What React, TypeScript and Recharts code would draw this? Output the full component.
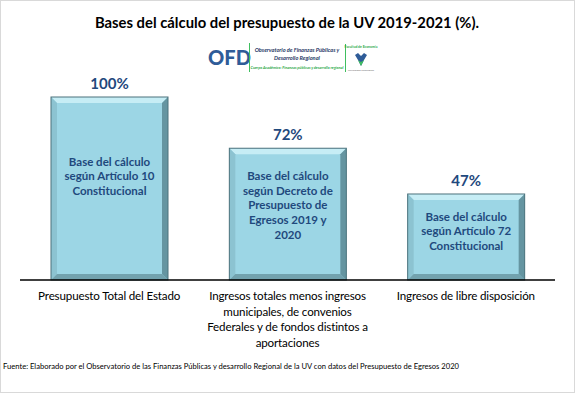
import React from 'react';
import { BarChart, Bar, XAxis, YAxis, LabelList } from 'recharts';

const categories = ['Presupuesto Total del Estado', 'Ingresos totales menos ingresos municipales', 'Ingresos de libre disposición'];
const values = [100, 72, 47];
const tickLines = [
  ['Presupuesto Total del Estado'],
  ['Ingresos totales menos ingresos', 'municipales, de convenios', 'Federales y de fondos distintos a', 'aportaciones'],
  ['Ingresos de libre disposición'],
];
const innerLines = [
  ['Base del cálculo', 'según Artículo 10', 'Constitucional'],
  ['Base del cálculo', 'según Decreto de', 'Presupuesto de', 'Egresos 2019 y', '2020'],
  ['Base del cálculo', 'según Artículo 72', 'Constitucional'],
];
const title = 'Bases del cálculo del presupuesto de la UV 2019-2021 (%).';
const source = 'Fuente: Elaborado por el Observatorio de las Finanzas Públicas y desarrollo Regional de la UV con datos del Presupuesto de Egresos 2020';

const data = categories.map((c, i) => ({ name: c, value: values[i], idx: i }));

const FONT = 'Lato, "Open Sans", sans-serif';
const DARK = '#1F497D';

const BevelBar = (props: any) => {
  const { x, y, width, height } = props;
  const b = 6;
  return (
    <g>
      <rect x={x} y={y} width={width} height={height} fill="#9CD6E5" />
      <polygon points={`${x},${y} ${x + width},${y} ${x + width - b},${y + b} ${x + b},${y + b}`} fill="#C6EDF5" />
      <polygon points={`${x},${y} ${x + b},${y + b} ${x + b},${y + height - b} ${x},${y + height}`} fill="#8CC3D1" />
      <polygon points={`${x},${y + height} ${x + b},${y + height - b} ${x + width - b},${y + height - b} ${x + width},${y + height}`} fill="#72A2AE" />
      <polygon points={`${x + width},${y} ${x + width},${y + height} ${x + width - b},${y + height - b} ${x + width - b},${y + b}`} fill="#6595A1" />
      <rect x={x} y={y} width={width} height={height} fill="none" stroke="#4C727C" strokeWidth={1} />
    </g>
  );
};

const ValueLabel = (props: any) => {
  const { x, y, width, value } = props;
  return (
    <text x={x + width / 2} y={y - 14} textAnchor="middle" dominantBaseline="central" fontFamily={FONT} fontWeight={700} fontSize={15} fill={DARK}>
      {`${value}%`}
    </text>
  );
};

const InnerLabel = (props: any) => {
  const { x, y, width, height, index } = props;
  const lines = innerLines[index] || [];
  const lh = 14.6;
  const cy = y + height * 0.43;
  const start = cy - ((lines.length - 1) * lh) / 2;
  return (
    <text textAnchor="middle" fontFamily={FONT} fontWeight={700} fontSize={11.5} fill={DARK}>
      {lines.map((l: string, i: number) => (
        <tspan key={i} x={x + width / 2} y={start + i * lh} dominantBaseline="central">{l}</tspan>
      ))}
    </text>
  );
};

const CatTick = (props: any) => {
  const { x, payload } = props;
  const lines = tickLines[payload.index] || [];
  return (
    <text textAnchor="middle" fontFamily={FONT} fontSize={11.6} letterSpacing={-0.15} fill="#000">
      {lines.map((l: string, i: number) => (
        <tspan key={i} x={x} y={295.5 + i * 15.6} dominantBaseline="central">{l}</tspan>
      ))}
    </text>
  );
};

export default function App() {
  return (
    <div style={{ position: 'absolute', left: 0, top: 0, width: 575, height: 393, background: '#fff' }}>
      <div style={{ position: 'absolute', left: 0, top: 0, width: 575, height: 393, boxSizing: 'border-box', border: '1px solid #D9D9D9' }} />
      <div style={{ position: 'absolute', left: 0, top: 0 }}>
        <BarChart width={575} height={393} data={data} margin={{ top: 97, right: 20, left: 20, bottom: 0 }}>
          <YAxis hide domain={[0, 100]} />
          <XAxis dataKey="name" height={113} tickLine={false} axisLine={{ stroke: '#000', strokeWidth: 1.5 }} tick={<CatTick />} interval={0} />
          <Bar dataKey="value" barSize={117} shape={<BevelBar />} isAnimationActive={false}>
            <LabelList dataKey="value" content={<ValueLabel />} />
            <LabelList dataKey="value" content={<InnerLabel />} />
          </Bar>
        </BarChart>
      </div>
      <svg width={575} height={393} style={{ position: 'absolute', left: 0, top: 0, pointerEvents: 'none' }}>
        <text x={287} y={22} textAnchor="middle" dominantBaseline="central" fontFamily={FONT} fontWeight={700} fontSize={14.8} fill="#000">{title}</text>
        <text x={229.5} y={57} textAnchor="middle" dominantBaseline="central" fontFamily={FONT} fontWeight={900} fontSize={20} fill="#2F5C98">OFD</text>
        <line x1={249.5} y1={43} x2={249.5} y2={72} stroke="#3FBF5F" strokeWidth={1} />
        <text x={297} y={49} textAnchor="middle" dominantBaseline="central" fontFamily={FONT} fontStyle="italic" fontWeight={700} fontSize={5.6} fill="#1F3864">Observatorio de Finanzas Públicas y</text>
        <text x={297} y={57} textAnchor="middle" dominantBaseline="central" fontFamily={FONT} fontStyle="italic" fontWeight={700} fontSize={5.6} fill="#1F3864">Desarrollo Regional</text>
        <text x={297} y={67.5} textAnchor="middle" dominantBaseline="central" fontFamily={FONT} fontStyle="italic" fontWeight={700} fontSize={3.8} fill="#2DAA4A">Cuerpo Académico: Finanzas públicas y desarrollo regional</text>
        <line x1={345.5} y1={44} x2={345.5} y2={72} stroke="#3FBF5F" strokeWidth={1} />
        <text x={361} y={47} textAnchor="middle" dominantBaseline="central" fontFamily={FONT} fontWeight={700} fontSize={3.4} fill="#2DAA4A">Facultad de Economía</text>
        <path d="M355,55 L358,53 L361,56 L364,53 L367,55 L364,60 L361,66 L358,60 Z" fill="#2F5C98" />
        <path d="M358,60 L361,66 L364,60 L361,62 Z" fill="#3FBF5F" />
        <text x={361} y={70} textAnchor="middle" dominantBaseline="central" fontFamily={FONT} fontSize={2.4} fill="#666">Universidad Veracruzana</text>
        <text x={3} y={366} dominantBaseline="central" fontFamily={FONT} fontSize={7.6} fill="#000">{source}</text>
      </svg>
    </div>
  );
}
